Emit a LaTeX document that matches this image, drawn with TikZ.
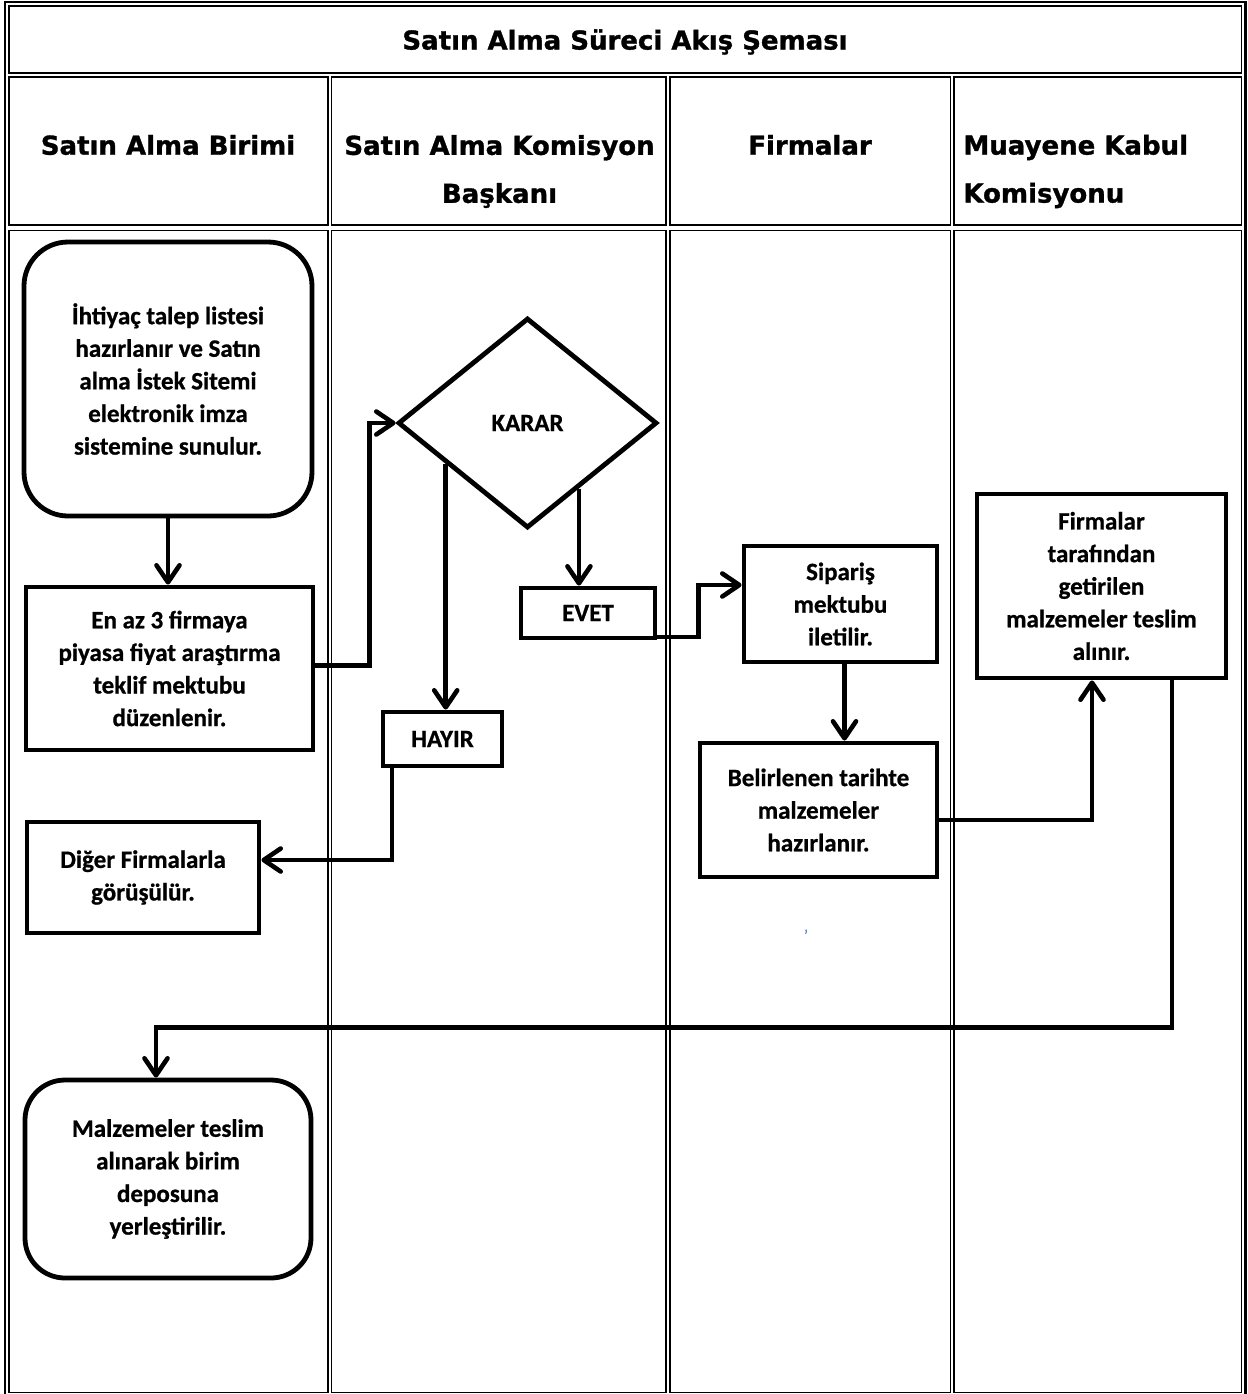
\documentclass[tikz,border=0pt]{standalone}
\usepackage{fontspec}
\newfontfamily\hfont{DejaVu Sans}[BoldFont={DejaVu Sans Bold}, BoldFeatures={FakeBold=1.2}]
\newfontfamily\bfont{Carlito}[BoldFont={Carlito Bold}, BoldFeatures={FakeBold=0.8}]
\usetikzlibrary{shapes.geometric,arrows.meta,calc}
\definecolor{wblue}{RGB}{68,114,196}
\begin{document}
\begin{tikzpicture}[x=0.5pt,y=-0.5pt,
  cellb/.style={draw, line width=0.9pt},
  hd/.style={inner sep=0pt, font=\hfont\bfseries\fontsize{13}{24}\selectfont, align=center},
  box/.style={draw, line width=2.4pt, align=center, inner sep=0pt, font=\bfont\bfseries\fontsize{12.5}{16.3}\selectfont},
  rbox/.style={box, rounded corners=22pt},
  arr/.style={line width=2.3pt, -{Straight Barb[length=8.5pt,width=11.5pt,round]}}]
\useasboundingbox (0,0) rectangle (1248,1394);
% table
\draw[line width=1.1pt] (4.7,2.2) rectangle (1245.5,1397);
\draw[cellb] (8.7,6) rectangle (1241.5,73.2);
\draw[cellb] (8.7,77) rectangle (327.7,224.8);
\draw[cellb] (331.5,77) rectangle (666,224.8);
\draw[cellb] (669.8,77) rectangle (950.5,224.8);
\draw[cellb] (954.3,77) rectangle (1241.5,224.8);
\draw[cellb] (8.7,230.5) rectangle (327.7,1392.5);
\draw[cellb] (331.5,230.5) rectangle (666,1392.5);
\draw[cellb] (669.8,230.5) rectangle (950.5,1392.5);
\draw[cellb] (954.3,230.5) rectangle (1241.5,1392.5);
% headers
\node[hd] (title) at (625,42) {Satın Alma Süreci Akış Şeması};
\node[hd] (h1) at (168,145) {Satın Alma Birimi};
\node[hd] (h2) at (499.5,171.5) {Satın Alma Komisyon\\Başkanı};
\node[hd] (h3) at (810,145) {Firmalar};
\node[hd, anchor=west, align=left] (h4) at (963,171.5) {Muayene Kabul\\Komisyonu};
% nodes
\node[rbox, minimum width=144pt, minimum height=137pt] (start) at (168,379)
  {İhtiyaç talep listesi\\hazırlanır ve Satın\\alma İstek Sitemi\\elektronik imza\\sistemine sunulur.};
\node[box, minimum width=143.5pt, minimum height=81.5pt] (enaz) at (169.5,668.5)
  {En az 3 firmaya\\piyasa fiyat araştırma\\teklif mektubu\\düzenlenir.};
\node[box, diamond, minimum width=129.5pt, minimum height=105pt] (karar) at (527.5,423) {KARAR};
\node[box, minimum width=67pt, minimum height=25pt] (evet) at (588,613) {EVET};
\node[box, minimum width=59.5pt, minimum height=27pt] (hayir) at (442.5,739) {HAYIR};
\node[box, minimum width=116pt, minimum height=55.5pt] (diger) at (143,877.5)
  {Diğer Firmalarla\\görüşülür.};
\node[box, minimum width=96.5pt, minimum height=58pt] (siparis) at (840.5,604)
  {Sipariş\\mektubu\\iletilir.};
\node[box, minimum width=118.5pt, minimum height=67pt] (belir) at (818.5,810)
  {Belirlenen tarihte\\malzemeler\\hazırlanır.};
\node[box, minimum width=124.5pt, minimum height=92pt] (firma) at (1101.5,586)
  {Firmalar\\tarafından\\getirilen\\malzemeler teslim\\alınır.};
\node[rbox, rounded corners=20pt, minimum width=143pt, minimum height=99pt] (malz) at (168,1179)
  {Malzemeler teslim\\alınarak birim\\deposuna\\yerleştirilir.};
\node[text=wblue, inner sep=0pt, font=\bfont\fontsize{9}{9}\selectfont] (tick) at (806,936) {’};
% connectors
\draw[arr] (start.south) -- (start.south |- enaz.north);
\draw[arr] ([yshift=1.5pt]enaz.east) -- ++(54,0) |- (karar.west);
\draw[arr] ($(karar.west)!0.38!(karar.south)$) coordinate (k1) -- (k1 |- hayir.north);
\draw[arr] ($(karar.east)!0.61!(karar.south)$) coordinate (k2) -- (k2 |- evet.north);
\draw[arr] ([xshift=-25.25pt]hayir.south) |- ([yshift=8.75pt]diger.east);
\draw[arr] ([yshift=-12pt]evet.east) -- ++(41,0) |- ([yshift=9.5pt]siparis.west);
\draw[arr] ([xshift=2pt]siparis.south) coordinate (s1) -- (s1 |- belir.north);
\draw[arr] ([yshift=-5pt]belir.east) -| ([xshift=-4.75pt]firma.south);
\draw[arr] ([xshift=35.25pt]firma.south) -- ++(0,347) -| ([xshift=-6pt]malz.north);
\end{tikzpicture}
\end{document}
